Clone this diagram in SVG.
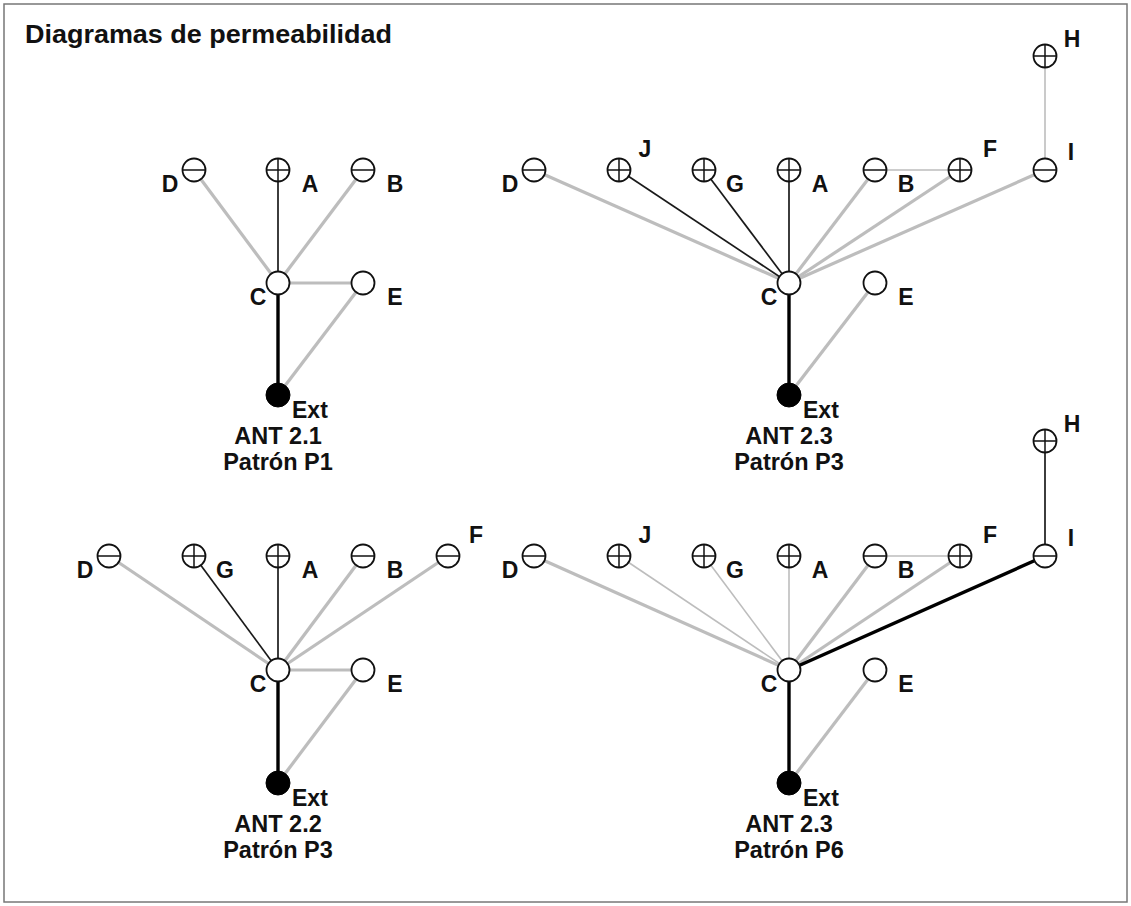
<svg xmlns="http://www.w3.org/2000/svg" width="1131" height="906" viewBox="0 0 1131 906">
<style>
.frame{fill:#fff;stroke:#777;stroke-width:1.5}
.nd{fill:#fff;stroke:#111;stroke-width:1.8}
.sg{stroke:#111;stroke-width:1.5}
.ext{fill:#000;stroke:#000;stroke-width:1}
.gk{stroke:#bdbdbd;stroke-width:3.2;fill:none}
.gt{stroke:#bdbdbd;stroke-width:1.6;fill:none}
.bt{stroke:#1a1a1a;stroke-width:1.7;fill:none}
.bk{stroke:#000;stroke-width:3.4;fill:none}
text{font-family:"Liberation Sans",Arial,sans-serif;font-weight:bold;fill:#111}
.lb{font-size:23px;text-anchor:middle}
.ls{font-size:23px;text-anchor:start}
.cap{font-size:23.5px;text-anchor:middle}
.title{font-size:25px}
</style>
<defs>
<g id="plus"><circle class="nd" r="11.5"/><line class="sg" x1="-11.5" y1="0" x2="11.5" y2="0"/><line class="sg" x1="0" y1="-11.5" x2="0" y2="11.5"/></g>
<g id="minus"><circle class="nd" r="11.5"/><line class="sg" x1="-11.5" y1="0" x2="11.5" y2="0"/></g>
<g id="plain"><circle class="nd" r="11.5"/></g>
<g id="extn"><circle class="ext" r="12"/></g>
</defs>
<rect class="frame" x="4" y="4" width="1123" height="898"/>
<text class="title" x="25" y="43" textLength="367" lengthAdjust="spacingAndGlyphs">Diagramas de permeabilidad</text>

<g id="connectors">
<!-- Diagram 1 -->
<line class="gk" x1="278" y1="283" x2="194" y2="170"/>
<line class="bt" x1="278" y1="283" x2="278" y2="170"/>
<line class="gk" x1="278" y1="283" x2="363" y2="170"/>
<line class="gk" x1="278" y1="283" x2="363" y2="283"/>
<line class="gk" x1="363" y1="283" x2="278" y2="395"/>
<line class="bk" x1="278" y1="283" x2="278" y2="395"/>
<!-- Diagram 2 -->
<line class="gk" x1="789" y1="283" x2="534" y2="170"/>
<line class="bt" x1="789" y1="283" x2="619" y2="170"/>
<line class="bt" x1="789" y1="283" x2="704" y2="170"/>
<line class="bt" x1="789" y1="283" x2="789" y2="170"/>
<line class="gk" x1="789" y1="283" x2="875" y2="170"/>
<line class="gk" x1="789" y1="283" x2="960" y2="170"/>
<line class="gk" x1="789" y1="283" x2="1045" y2="170"/>
<line class="gt" x1="875" y1="170" x2="960" y2="170"/>
<line class="gt" x1="1045" y1="170" x2="1045" y2="56"/>
<line class="gk" x1="875" y1="283" x2="789" y2="395"/>
<line class="bk" x1="789" y1="283" x2="789" y2="395"/>
<!-- Diagram 3 -->
<line class="gk" x1="278" y1="670" x2="109" y2="556"/>
<line class="bt" x1="278" y1="670" x2="194" y2="556"/>
<line class="bt" x1="278" y1="670" x2="278" y2="556"/>
<line class="gk" x1="278" y1="670" x2="363" y2="556"/>
<line class="gk" x1="278" y1="670" x2="448" y2="556"/>
<line class="gk" x1="278" y1="670" x2="363" y2="670"/>
<line class="gk" x1="363" y1="670" x2="278" y2="783"/>
<line class="bk" x1="278" y1="670" x2="278" y2="783"/>
<!-- Diagram 4 -->
<line class="gk" x1="789" y1="670" x2="534" y2="556"/>
<line class="gt" x1="789" y1="670" x2="619" y2="556"/>
<line class="gt" x1="789" y1="670" x2="704" y2="556"/>
<line class="gt" x1="789" y1="670" x2="789" y2="556"/>
<line class="gk" x1="789" y1="670" x2="875" y2="556"/>
<line class="gk" x1="789" y1="670" x2="960" y2="556"/>
<line class="bk" x1="789" y1="670" x2="1045" y2="556"/>
<line class="gt" x1="875" y1="556" x2="960" y2="556"/>
<line class="bt" x1="1045" y1="556" x2="1045" y2="441"/>
<line class="gk" x1="875" y1="670" x2="789" y2="783"/>
<line class="bk" x1="789" y1="670" x2="789" y2="783"/>
</g>

<!-- Diagram 1 nodes -->
<g id="d1-D"><use href="#minus" x="194" y="170"/><text class="lb" x="170" y="192">D</text></g>
<g id="d1-A"><use href="#plus" x="278" y="170"/><text class="lb" x="310" y="192">A</text></g>
<g id="d1-B"><use href="#minus" x="363" y="170"/><text class="lb" x="395" y="192">B</text></g>
<g id="d1-C"><use href="#plain" x="278" y="283"/><text class="lb" x="258" y="305">C</text></g>
<g id="d1-E"><use href="#plain" x="363" y="283"/><text class="lb" x="395" y="305">E</text></g>
<g id="d1-Ext"><use href="#extn" x="278" y="395"/><text class="ls" x="292" y="418">Ext</text></g>
<g id="d1-caption"><text class="cap" x="278" y="444">ANT 2.1</text><text class="cap" x="278" y="470">Patrón P1</text></g>

<!-- Diagram 2 nodes -->
<g id="d2-D"><use href="#minus" x="534" y="170"/><text class="lb" x="510" y="192">D</text></g>
<g id="d2-J"><use href="#plus" x="619" y="170"/><text class="lb" x="645" y="157">J</text></g>
<g id="d2-G"><use href="#plus" x="704" y="170"/><text class="lb" x="735" y="192">G</text></g>
<g id="d2-A"><use href="#plus" x="789" y="170"/><text class="lb" x="820" y="192">A</text></g>
<g id="d2-B"><use href="#minus" x="875" y="170"/><text class="lb" x="906" y="192">B</text></g>
<g id="d2-F"><use href="#plus" x="960" y="170"/><text class="lb" x="990" y="157">F</text></g>
<g id="d2-I"><use href="#minus" x="1045" y="170"/><text class="lb" x="1071" y="160">I</text></g>
<g id="d2-H"><use href="#plus" x="1045" y="56"/><text class="lb" x="1072" y="47">H</text></g>
<g id="d2-C"><use href="#plain" x="789" y="283"/><text class="lb" x="769" y="305">C</text></g>
<g id="d2-E"><use href="#plain" x="875" y="283"/><text class="lb" x="906" y="305">E</text></g>
<g id="d2-Ext"><use href="#extn" x="789" y="395"/><text class="ls" x="803" y="418">Ext</text></g>
<g id="d2-caption"><text class="cap" x="789" y="444">ANT 2.3</text><text class="cap" x="789" y="470">Patrón P3</text></g>

<!-- Diagram 3 nodes -->
<g id="d3-D"><use href="#minus" x="109" y="556"/><text class="lb" x="85" y="578">D</text></g>
<g id="d3-G"><use href="#plus" x="194" y="556"/><text class="lb" x="225" y="578">G</text></g>
<g id="d3-A"><use href="#plus" x="278" y="556"/><text class="lb" x="310" y="578">A</text></g>
<g id="d3-B"><use href="#minus" x="363" y="556"/><text class="lb" x="395" y="578">B</text></g>
<g id="d3-F"><use href="#minus" x="448" y="556"/><text class="lb" x="476" y="543">F</text></g>
<g id="d3-C"><use href="#plain" x="278" y="670"/><text class="lb" x="258" y="692">C</text></g>
<g id="d3-E"><use href="#plain" x="363" y="670"/><text class="lb" x="395" y="692">E</text></g>
<g id="d3-Ext"><use href="#extn" x="278" y="783"/><text class="ls" x="292" y="806">Ext</text></g>
<g id="d3-caption"><text class="cap" x="278" y="832">ANT 2.2</text><text class="cap" x="278" y="858">Patrón P3</text></g>

<!-- Diagram 4 nodes -->
<g id="d4-D"><use href="#minus" x="534" y="556"/><text class="lb" x="510" y="578">D</text></g>
<g id="d4-J"><use href="#plus" x="619" y="556"/><text class="lb" x="645" y="543">J</text></g>
<g id="d4-G"><use href="#plus" x="704" y="556"/><text class="lb" x="735" y="578">G</text></g>
<g id="d4-A"><use href="#plus" x="789" y="556"/><text class="lb" x="820" y="578">A</text></g>
<g id="d4-B"><use href="#minus" x="875" y="556"/><text class="lb" x="906" y="578">B</text></g>
<g id="d4-F"><use href="#plus" x="960" y="556"/><text class="lb" x="990" y="543">F</text></g>
<g id="d4-I"><use href="#minus" x="1045" y="556"/><text class="lb" x="1071" y="546">I</text></g>
<g id="d4-H"><use href="#plus" x="1045" y="441"/><text class="lb" x="1072" y="432">H</text></g>
<g id="d4-C"><use href="#plain" x="789" y="670"/><text class="lb" x="769" y="692">C</text></g>
<g id="d4-E"><use href="#plain" x="875" y="670"/><text class="lb" x="906" y="692">E</text></g>
<g id="d4-Ext"><use href="#extn" x="789" y="783"/><text class="ls" x="803" y="806">Ext</text></g>
<g id="d4-caption"><text class="cap" x="789" y="832">ANT 2.3</text><text class="cap" x="789" y="858">Patrón P6</text></g>
</svg>
